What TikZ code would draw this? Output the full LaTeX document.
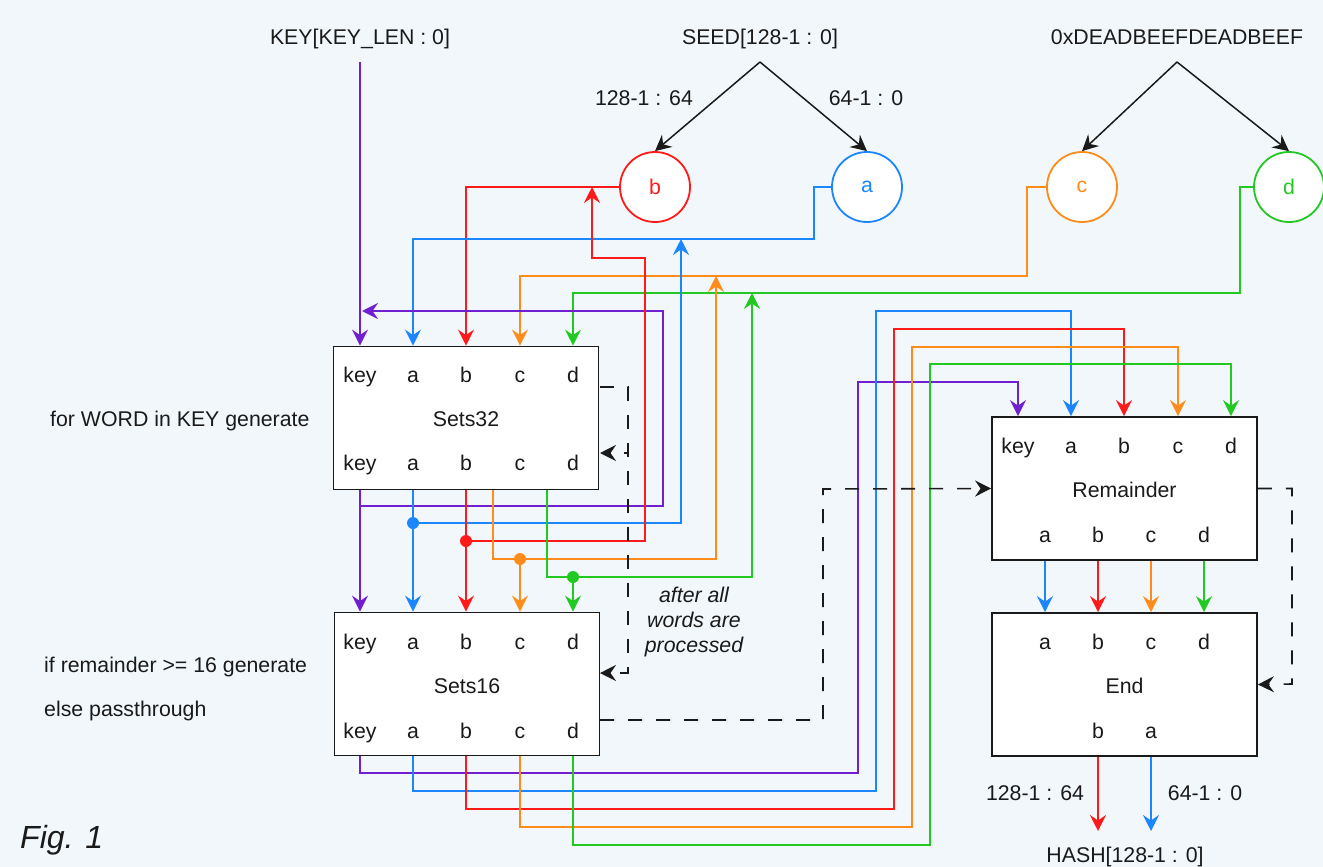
\documentclass[tikz,border=0pt]{standalone}
\usepackage{fontspec}
\setmainfont{Liberation Sans}
\usetikzlibrary{arrows.meta}
\definecolor{bg}{HTML}{F2F7FB}
\definecolor{cpur}{HTML}{7020D0}
\definecolor{cblue}{HTML}{1C86FF}
\definecolor{cred}{HTML}{FF1A1A}
\definecolor{corange}{HTML}{FF8C1A}
\definecolor{cgreen}{HTML}{22C922}
\definecolor{ink}{HTML}{1A1A1A}
\tikzset{
  tip/.style={-{Stealth[length=16pt,width=16pt,inset=5.5pt]}},
  wire/.style={line width=2pt, tip},
  blk/.style={line width=1.5pt, draw=ink, tip},
  dashline/.style={line width=1.6pt, draw=ink, dash pattern=on 14pt off 14pt, tip},
  box/.style={draw=ink, line width=1.8pt, fill=white, minimum width=265pt, minimum height=143pt, inner sep=0pt},
  circ/.style={circle, line width=1.8pt, fill=white, minimum size=70pt, inner sep=0pt},
  lbl/.style={inner sep=0pt, text height=15pt, text depth=0pt, text=ink},
  dot/.style={circle, inner sep=0pt, minimum size=12pt},
}
\begin{document}
\begin{tikzpicture}[x=1pt,y=-1pt, font=\fontsize{21.3}{25}\selectfont, line join=miter]
\fill[bg] (0,0) rectangle (1323,867);
\useasboundingbox (0,0) rectangle (1323,867);

% top labels
\node[lbl] (keylbl) at (360,37) {KEY[KEY\_LEN : 0]};
\node[lbl] (seedlbl) at (760,37) {SEED[128-1 : 0]};
\node[lbl] (deadlbl) at (1177,37) {0xDEADBEEFDEADBEEF};
\node[lbl] (lhi) at (644,98) {128-1 : 64};
\node[lbl] (llo) at (866,98) {64-1 : 0};
\coordinate (keysrc) at (360,62);
\coordinate (seedap) at (760,62);
\coordinate (deadap) at (1177,62);

% circles
\node[circ, draw=cred, text=cred] (b) at (655,187) {b};
\node[circ, draw=cblue, text=cblue] (a) at (867,187) {a};
\node[circ, draw=corange, text=corange] (c) at (1082,187) {c};
\node[circ, draw=cgreen, text=cgreen] (d) at (1289,187) {d};

\draw[blk] (seedap) -- (b.north);
\draw[blk] (seedap) -- (a.north);
\draw[blk] (deadap) -- (c.north);
\draw[blk] (deadap) -- (d.north);

% boxes
\node[box] (s32) at (466,418) {};
\node[box] (s16) at (467,684) {};
\node[box] (rem) at (1124.5,488.5) {};
\node[box] (end) at (1124.5,684.5) {};

\foreach \n/\x/\t in {1/360/key,2/413/a,3/466/b,4/520/c,5/573/d} {
  \node[lbl] (s32t\n) at (\x,375) {\t};
  \node[lbl] (s32b\n) at (\x,463) {\t};
  \node[lbl] (s16t\n) at (\x,642) {\t};
  \node[lbl] (s16b\n) at (\x,731) {\t};
}
\foreach \n/\x/\t in {1/1018/key,2/1071/a,3/1124/b,4/1178/c,5/1231/d} {
  \node[lbl] (remt\n) at (\x,446) {\t};
}
\foreach \n/\x/\t in {2/1045/a,3/1098/b,4/1151/c,5/1204/d} {
  \node[lbl] (remb\n) at (\x,535) {\t};
  \node[lbl] (endt\n) at (\x,642) {\t};
}
\node[lbl] (endbb) at (1098,731) {b};
\node[lbl] (endba) at (1151,731) {a};
\node[lbl] (s32n) at (466,419) {Sets32};
\node[lbl] (s16n) at (467,686) {Sets16};
\node[lbl] (remn) at (1124.5,490) {Remainder};
\node[lbl] (endn) at (1124.5,686) {End};

% side texts
\node[lbl, anchor=west] (t1) at (50,419) {for WORD in KEY generate};
\node[lbl, anchor=west] (t2) at (44,665) {if remainder >= 16 generate};
\node[lbl, anchor=west] (t3) at (44,709) {else passthrough};
\node[inner sep=0pt, align=center, text=ink, font=\fontsize{21.3}{25}\selectfont\itshape] (aft) at (694,622) {after all\\words are\\processed};
\node[inner sep=0pt, anchor=west, text=ink, font=\fontsize{32}{36}\selectfont\itshape] (fig) at (20,840) {Fig. 1};

% inputs into Sets32
\draw[wire,cpur] (keysrc) -- (s32t1 |- s32.north);
\draw[wire,cred] (b.west) -| (s32t3 |- s32.north);
\draw[wire,cblue] (a.west) -- ++(-17,0) -- ++(0,52) -| (s32t2 |- s32.north);
\draw[wire,corange] (c.west) -- ++(-19,0) -- ++(0,89) -| (s32t4 |- s32.north);
\draw[wire,cgreen] (d.west) -- ++(-13,0) -- ++(0,106) -| (s32t5 |- s32.north);

% Sets32 -> Sets16 and feedback
\coordinate (jk) at (360,506);
\coordinate (jb) at (413,523);
\coordinate (jr) at (466,541);
\coordinate (jo) at (520,559);
\coordinate (jg) at (573,577);
\coordinate (kin) at (362,311);
\coordinate (ain) at (681,239);
\coordinate (bin) at (592,187);
\coordinate (cin) at (716,276);
\coordinate (din) at (752,293);

\draw[wire,cpur] (s32b1 |- s32.south) -- (s16t1 |- s16.north);
\draw[wire,cpur] (jk) -| (663,311) -- (kin);
\draw[wire,cblue] (s32b2 |- s32.south) -- (s16t2 |- s16.north);
\draw[wire,cblue] (jb) -| (ain);
\draw[wire,cred] (s32b3 |- s32.south) -- (s16t3 |- s16.north);
\draw[wire,cred] (jr) -| (645,258) -| (bin);
\draw[wire,corange] (493,490) -- (493,559) -| (cin);
\draw[wire,corange] (jo) -- (s16t4 |- s16.north);
\draw[wire,cgreen] (547,490) -- (547,577) -| (din);
\draw[wire,cgreen] (jg) -- (s16t5 |- s16.north);
\node[dot, fill=cblue] (db) at (jb) {};
\node[dot, fill=cred] (dr) at (jr) {};
\node[dot, fill=corange] (do) at (jo) {};
\node[dot, fill=cgreen] (dg) at (jg) {};

% Sets16 -> Remainder
\draw[wire,cpur] (s16b1 |- s16.south) |- (858,773) |- (1018,382) -- (remt1 |- rem.north);
\draw[wire,cblue] (s16b2 |- s16.south) |- (876,791) |- (1071,311) -- (remt2 |- rem.north);
\draw[wire,cred] (s16b3 |- s16.south) |- (894,809) |- (1124,329) -- (remt3 |- rem.north);
\draw[wire,corange] (s16b4 |- s16.south) |- (912,827) |- (1178,347) -- (remt4 |- rem.north);
\draw[wire,cgreen] (s16b5 |- s16.south) |- (930,845) |- (1231,364) -- (remt5 |- rem.north);

% Remainder -> End
\foreach \n/\c in {2/cblue,3/cred,4/corange,5/cgreen}
  \draw[wire,\c] (remb\n |- rem.south) -- (endt\n |- end.north);

% End -> hash
\coordinate (hb) at (1098,831);
\coordinate (ha) at (1151,831);
\draw[wire,cred] (endbb |- end.south) -- (hb);
\draw[wire,cblue] (endba |- end.south) -- (ha);
\node[lbl] (ohi) at (1035,793) {128-1 : 64};
\node[lbl] (olo) at (1205,793) {64-1 : 0};
\node[lbl] (hash) at (1125,855) {HASH[128-1 : 0]};

% dashed control flow
\coordinate (s32o) at (600,387);
\coordinate (s32i) at (600,453);
\coordinate (s16i) at (600,673);
\coordinate (s16o) at (600,720);
\draw[dashline] (s32o) -| (628,453) -- (s32i);
\draw[dashline] (s32o) -| (628,673) -- (s16i);
\draw[dashline] (s16o) -| (823,489) -- (rem.west);
\draw[dashline] (rem.east) -| (1292,684) -- (end.east);
\end{tikzpicture}
\end{document}
